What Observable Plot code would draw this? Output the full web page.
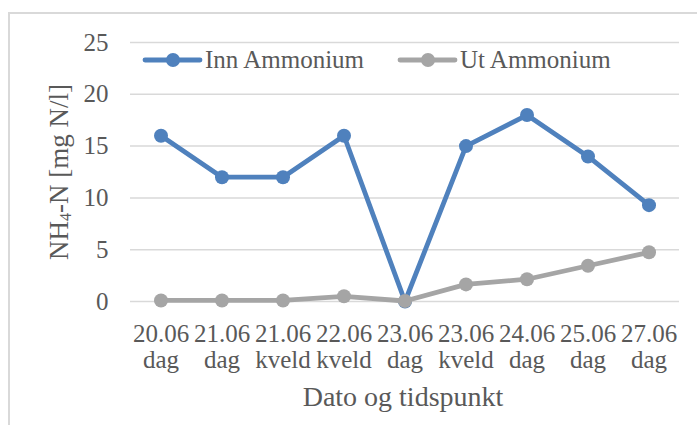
<!DOCTYPE html>
<html><head><meta charset="utf-8">
<script src="https://cdn.jsdelivr.net/npm/d3@7"></script>
<script src="https://cdn.jsdelivr.net/npm/@observablehq/plot@0.6"></script>
<style>
body{margin:0;background:#fff;font-family:'Liberation Serif',serif;color:#595959}
#wrap{position:relative;width:697px;height:425px;overflow:hidden;font-family:'Liberation Serif',serif}
#border{position:absolute;left:8px;top:12px;width:740px;height:460px;border:2px solid #d9d9d9;box-sizing:border-box}
#chart{position:absolute;left:0;top:0}
#chart svg, #chart text, #legend text{font-family:'Liberation Serif',serif !important}
#ylab{position:absolute;left:59px;top:172px;transform:translate(-50%,-50%) rotate(-90deg);white-space:nowrap;font-size:27px;line-height:1;font-family:'Liberation Serif',serif}
#ylab sub{font-size:16px;vertical-align:-3px;line-height:0}
#xlab{position:absolute;left:403px;top:383px;transform:translateX(-50%);white-space:nowrap;font-size:28px;line-height:28px;font-family:'Liberation Serif',serif}
#legend{position:absolute;left:0;top:0}
</style></head>
<body>
<div id="wrap">
  <div id="border"></div>
  <div id="chart"></div>
  <div id="ylab">NH<sub>4</sub>-N [mg N/l]</div>
  <div id="xlab">Dato og tidspunkt</div>
  <div id="legend"></div>
</div>
<script>
const categories = ["20.06 dag","21.06 dag","21.06 kveld","22.06 kveld","23.06 dag","23.06 kveld","24.06 dag","25.06 dag","27.06 dag"];
const innAmmonium = [16, 12, 12, 16, 0, 15, 18, 14, 9.3];
const utAmmonium = [0.1, 0.1, 0.1, 0.5, 0.05, 1.65, 2.15, 3.45, 4.75];
const yTicks = [0, 5, 10, 15, 20, 25];
const seriesNames = ["Inn Ammonium", "Ut Ammonium"];
const colors = ["#4f81bd", "#a5a5a5"];

const inn = categories.map((c, i) => ({cat: c, v: innAmmonium[i]}));
const ut = categories.map((c, i) => ({cat: c, v: utAmmonium[i]}));

const plot = Plot.plot({
  width: 697, height: 425,
  marginTop: 42, marginBottom: 124, marginLeft: 130, marginRight: 18,
  style: {fontFamily: "'Liberation Serif', serif", color: "#595959", background: "transparent"},
  x: {type: "band", domain: categories, padding: 0},
  y: {domain: [0, 25]},
  marks: [
    Plot.gridY(yTicks, {stroke: "#d9d9d9", strokeOpacity: 1, strokeWidth: 1.5}),
    Plot.axisY({ticks: yTicks, tickSize: 0, tickPadding: 22, fontSize: 25, label: null}),
    Plot.axisX({tickSize: 0, tickPadding: 22, fontSize: 25, lineHeight: 1.04, label: null,
      tickFormat: d => d.replace(" ", "\n")}),
    Plot.line(inn, {x: "cat", y: "v", stroke: colors[0], strokeWidth: 4.8}),
    Plot.dot(inn, {x: "cat", y: "v", fill: colors[0], r: 7}),
    Plot.line(ut, {x: "cat", y: "v", stroke: colors[1], strokeWidth: 4.8}),
    Plot.dot(ut, {x: "cat", y: "v", fill: colors[1], r: 7})
  ]
});
document.getElementById("chart").append(plot);

// legend
const ns = "http://www.w3.org/2000/svg";
const lsvg = document.createElementNS(ns, "svg");
lsvg.setAttribute("width", 697); lsvg.setAttribute("height", 100);
const items = [{x: 145, name: seriesNames[0], color: colors[0]}, {x: 400, name: seriesNames[1], color: colors[1]}];
for (const it of items) {
  const ln = document.createElementNS(ns, "line");
  ln.setAttribute("x1", it.x); ln.setAttribute("x2", it.x + 55);
  ln.setAttribute("y1", 60); ln.setAttribute("y2", 60);
  ln.setAttribute("stroke", it.color); ln.setAttribute("stroke-width", 4.8); ln.setAttribute("stroke-linecap", "round");
  lsvg.append(ln);
  const c = document.createElementNS(ns, "circle");
  c.setAttribute("cx", it.x + 28); c.setAttribute("cy", 60); c.setAttribute("r", 7); c.setAttribute("fill", it.color);
  lsvg.append(c);
  const t = document.createElementNS(ns, "text");
  t.setAttribute("x", it.x + 60); t.setAttribute("y", 68);
  t.setAttribute("font-size", 25); t.setAttribute("fill", "#595959");
  t.textContent = it.name;
  lsvg.append(t);
}
document.getElementById("legend").append(lsvg);
</script>
</body></html>
